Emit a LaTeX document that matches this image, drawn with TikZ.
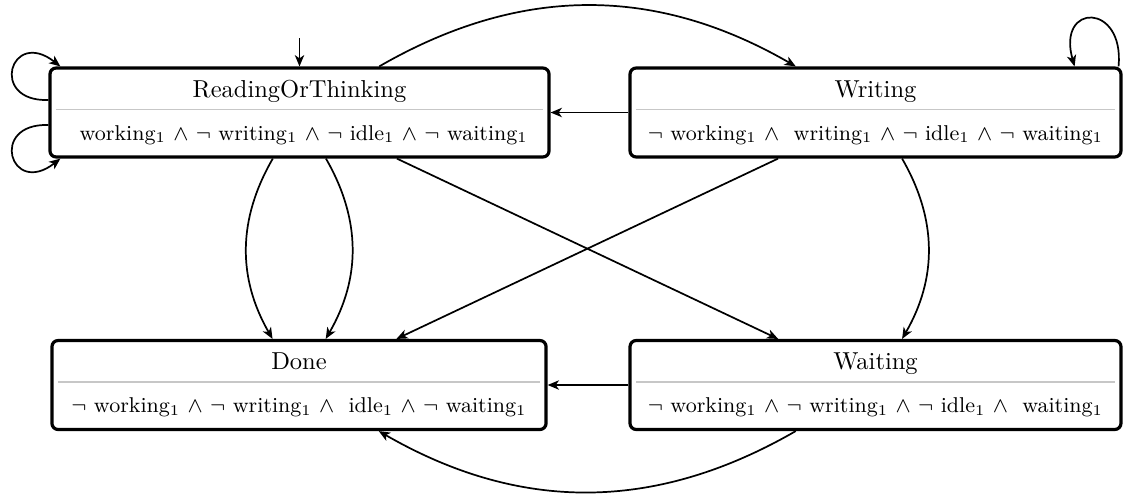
\RequirePackage{fix-cm}
\documentclass[tikz,border=0pt]{standalone}
\usetikzlibrary{arrows.meta,calc}

\begin{document}
\begin{tikzpicture}[
  x=0.408pt, y=-0.408pt,
  state/.style={draw, rounded corners=2.5pt, line width=1.3pt, inner sep=0pt, minimum height=36.3pt},
  sepline/.style={draw=black!22, line width=0.5pt},
  title/.style={anchor=base, inner sep=0pt},
  formula/.style={anchor=base, inner sep=0pt, font=\fontsize{8.75}{10}\selectfont},
  trans/.style={line width=0.7pt, -{Stealth[length=4.6pt,width=3.8pt,inset=1.3pt]}},
]
\useasboundingbox (0,0) rectangle (1123,498);

% the four states
\node[state, minimum width=203.6pt] (rot)     at (299.5,112.5) {};
\node[state, minimum width=200.3pt] (writing) at (875.5,112.5) {};
\node[state, minimum width=201.6pt] (done)    at (299,385)     {};
\node[state, minimum width=200.3pt] (waiting) at (875.5,385)   {};

% state names, separators and labelling formulas
\foreach \s in {rot,writing,done,waiting}{
  \draw[sepline] ($(\s.north west)+(8,43)$) -- ($(\s.north east)+(-8,43)$);
}
\node[title] (rotname) at ($(rot.north)+(0,31)$) {ReadingOrThinking};
\node[title] (wrname)  at ($(writing.north)+(0,31)$) {Writing};
\node[title] (doname)  at ($(done.north)+(0,31)$) {Done};
\node[title] (waname)  at ($(waiting.north)+(0,31)$) {Waiting};

\node[formula] (rotf) at ($(rot.north)+(2,73.7)$)
  {\hspace{1.8pt}working$_1$ $\wedge$ $\neg$ writing$_1$ $\wedge$ $\neg$ idle$_1$ $\wedge$ $\neg$ waiting$_1$};
\node[formula] (wrf) at ($(writing.north)+(0,73.7)$)
  {$\neg$ working$_1$ $\wedge$ \hspace{2.8pt}writing$_1$ $\wedge$ $\neg$ idle$_1$ $\wedge$ $\neg$ waiting$_1$};
\node[formula] (dof) at ($(done.north)+(0,73.7)$)
  {$\neg$ working$_1$ $\wedge$ $\neg$ writing$_1$ $\wedge$ \hspace{2.8pt}idle$_1$ $\wedge$ $\neg$ waiting$_1$};
\node[formula] (waf) at ($(waiting.north)+(0,73.7)$)
  {$\neg$ working$_1$ $\wedge$ $\neg$ writing$_1$ $\wedge$ $\neg$ idle$_1$ $\wedge$ \hspace{2.8pt}waiting$_1$};

% initial marker
\coordinate (init) at ($(rot.north)+(0,-28)$);
\draw[trans] (init) -- (rot.north);

% transitions
\draw[trans] (writing) -- (rot);
\draw[trans] (waiting) -- (done);
\draw[trans] (rot) to[bend left=30] (writing);
\draw[trans] (rot) to[bend right=30] (done);
\draw[trans] (rot) to[bend left=30] (done);
\draw[trans] (rot) -- (waiting);
\draw[trans] (writing) -- (done);
\draw[trans] (writing) to[bend left=30] (waiting);
\draw[trans] (waiting) to[bend left=30] (done);

% self loops
\draw[trans] ($(rot.west)+(0,-12.5)$) .. controls +(-60,2) and +(-50,-39) .. ($(rot.north west)+(12,0)$);
\draw[trans] ($(rot.west)+(0,12.5)$) .. controls +(-60,-2) and +(-50,39) .. ($(rot.south west)+(12,0)$);
\draw[trans] ($(writing.north east)+(-4,0)$) .. controls +(6,-64) and +(-18,-64) .. ($(writing.north east)+(-48,0)$);
\end{tikzpicture}
\end{document}
